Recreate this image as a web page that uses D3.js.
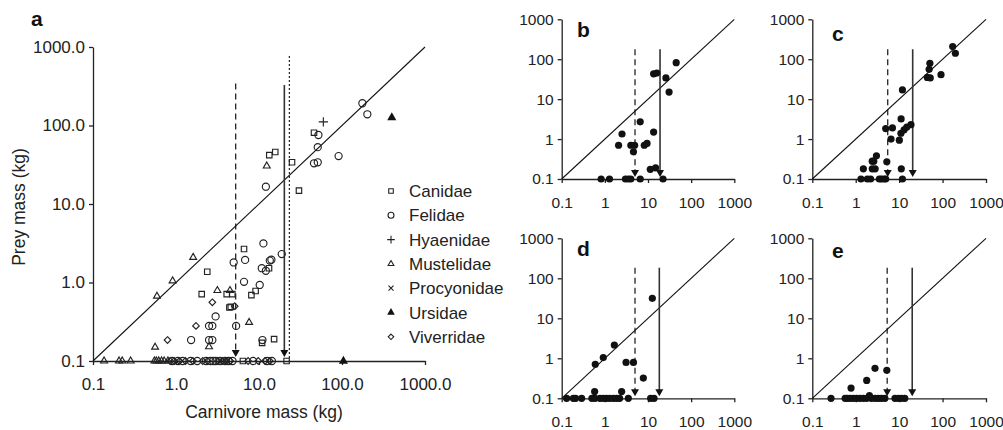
<!DOCTYPE html>
<html><head><meta charset="utf-8">
<script src="https://cdn.jsdelivr.net/npm/d3@7"></script>
<style>
body{margin:0;background:#fff;}
svg{display:block;font-family:"Liberation Sans",Arial,Helvetica,sans-serif;}
</style></head>
<body><svg id="chart" width="1003" height="430"></svg>
<script>
// ---------- DATA ----------
// Panel a: [carnivore mass kg, prey mass kg]
const canidae = [[13.3,42],[15.7,46],[25,34],[46,81],[30.3,14.8],[6.6,2.67],[13.2,1.52],[9.1,0.78],[8.1,0.69],[10.9,0.17],[15.2,0.19],[2.38,1.37],[2.04,0.71],[4.08,0.71],[4.77,0.71],[4.4,0.48],[4.57,0.49],[6.4,0.1],[21.5,0.1]];
const felidae = [[176,192],[202,139],[52,75.7],[51,53],[91,40.8],[46,33],[51,34],[12.1,16.6],[18.8,2.3],[11.3,3.15],[13.5,1.9],[14.1,1.95],[10.8,1.52],[12.1,1.41],[4.95,1.8],[6.8,1.94],[6.6,1.02],[10.2,0.93],[5.3,0.28],[11.0,0.185],[3.0,0.37],[2.5,0.28],[2.74,0.28],[2.5,0.185],[2.74,0.185],[1.52,0.185],
  [0.9,0.1],[1.05,0.1],[1.2,0.1],[1.5,0.1],[1.8,0.1],[2.3,0.1],[2.6,0.1],[2.8,0.1],[3.0,0.1],[3.4,0.1],[3.9,0.1],[4.3,0.1],[4.8,0.1],[8.5,0.1],[12.5,0.1],[14.3,0.1]];
const hyaenidae = [[59.6,111]];
const mustelidae = [[12.4,30.5],[1.61,2.09],[0.91,1.05],[0.59,0.67],[3.15,0.79],[4.47,0.79],[7.6,0.31],[0.56,0.15],[2.5,0.152],
  [0.136,0.1],[0.206,0.1],[0.225,0.1],[0.284,0.1],[0.55,0.1],[0.58,0.1],[0.62,0.1],[0.67,0.1],[0.72,0.1],[0.8,0.1]];
const procyonidae = [[3.4,0.1],[4.2,0.1]];
const ursidae = [[398,126],[104,0.1]];
const viverridae = [[2.74,0.56],[5.1,0.5],[1.74,0.28],[0.79,0.185],
  [0.85,0.1],[0.95,0.1],[1.1,0.1],[1.3,0.1],[1.6,0.1],[2.1,0.1],[2.4,0.1],[3.2,0.1],[3.6,0.1],[4.0,0.1],[4.5,0.1],[7.4,0.1],[9.8,0.1],[11.8,0.1],[13.5,0.1]];
const familyNames = ["Canidae","Felidae","Hyaenidae","Mustelidae","Procyonidae","Ursidae","Viverridae"];
// threshold lines in panel a: [carnivore mass, top prey mass]
const aDashed = [5.24, 344], aSolid = [20.2, 328], aDotted = [23.2, 768];

// Panels b-e
const panelB = [[45,82],[13.5,43],[16,45],[26,34],[30.8,15],[6.6,2.7],[2.5,1.34],[13.5,1.5],[2.08,0.7],[4.0,0.7],[4.9,0.7],[8.2,0.7],[9.5,0.78],[4.6,0.48],[11.3,0.175],[15,0.19],[0.82,0.1],[1.28,0.1],[3.0,0.1],[3.5,0.1],[4.0,0.1],[6.6,0.1],[22.3,0.1]];
const panelC = [[171,207],[197,141],[51,79],[49,56],[44.6,35],[52,34],[92,41],[11.9,17],[4.9,1.83],[7.0,1.9],[11.1,3.2],[11,1.4],[13,1.7],[15,2.0],[18.7,2.3],[6.5,1.0],[10.1,0.94],[3.0,0.38],[2.4,0.28],[2.6,0.28],[5.2,0.27],[1.5,0.18],[2.4,0.18],[2.8,0.18],[11.2,0.18],[1.32,0.1],[1.85,0.1],[2.2,0.1],[3.5,0.1],[3.9,0.1],[4.5,0.1],[4.9,0.1],[11.9,0.1]];
const panelD = [[12.6,31.6],[1.66,2.15],[0.92,1.04],[0.6,0.71],[3.1,0.79],[4.6,0.79],[7.8,0.32],[0.58,0.147],[2.45,0.147],[0.13,0.1],[0.186,0.1],[0.21,0.1],[0.29,0.1],[0.5,0.1],[0.59,0.1],[0.77,0.1],[0.92,0.1],[1.1,0.1],[1.3,0.1],[1.57,0.1],[1.87,0.1],[2.2,0.1],[3.5,0.1],[11.5,0.1],[13.8,0.1]];
const panelE = [[2.78,0.56],[5.2,0.5],[1.79,0.28],[0.78,0.18],[2.07,0.116],[0.27,0.1],[0.57,0.1],[0.64,0.1],[0.74,0.1],[0.88,0.1],[1.05,0.1],[1.25,0.1],[1.5,0.1],[1.79,0.1],[2.3,0.1],[2.8,0.1],[3.3,0.1],[3.9,0.1],[4.7,0.1],[8.0,0.1],[9.5,0.1],[11.3,0.1],[13.5,0.1]];
// thresholds for b-e: [dashed x, solid x, top prey]
const smallThresholds = {b:[5.0,19,178], c:[5.46,20.5,178], d:[5.0,18.3,184], e:[5.3,20.0,184]};

const tickValues = [0.1,1,10,100,1000];
const tickLabelsA = ["0.1","1.0","10.0","100.0","1000.0"];
const tickLabelsSmall = ["0.1","1","10","100","1000"];

// ---------- DRAW ----------
const svg = d3.select("#chart");
const ink = "#222";

function drawAxes(g, x, y, labels, fs, xLabelDy) {
  const xa = d3.axisBottom(x).tickValues(tickValues).tickFormat((d,i)=>labels[i]).tickSize(4).tickSizeOuter(0).tickPadding(5);
  const ya = d3.axisLeft(y).tickValues(tickValues).tickFormat((d,i)=>labels[i]).tickSize(4).tickSizeOuter(0).tickPadding(4);
  const gx = g.append("g").attr("transform",`translate(0,${y(0.1)})`).call(xa);
  const gy = g.append("g").attr("transform",`translate(${x(0.1)},0)`).call(ya);
  [gx,gy].forEach(a=>{
    a.attr("font-family",null);
    a.select(".domain").attr("stroke",ink).attr("stroke-width",1.3);
    a.selectAll(".tick line").attr("stroke",ink).attr("stroke-width",1.3);
    a.selectAll("text").attr("font-size",fs).attr("fill",ink);
  });
  gx.selectAll("text").attr("dy", xLabelDy);
}

function diag(g,x,y){
  g.append("line").attr("x1",x(0.1)).attr("y1",y(0.1)).attr("x2",x(1000)).attr("y2",y(1000))
   .attr("stroke","#111").attr("stroke-width",1.1);
}
function vline(g,x,y,xv,top,dash,arrow,tipOff){
  g.append("line").attr("x1",x(xv)).attr("x2",x(xv)).attr("y1",y(top)).attr("y2",y(0.1)-(arrow?tipOff+3:0))
   .attr("stroke",dash?"#111":"#333").attr("stroke-width",dash? (dash==="2,2"?1.1:1.2):1.6)
   .attr("stroke-dasharray",dash||null);
  if(arrow){
    const cx=x(xv), tip=y(0.1)-tipOff;
    g.append("path").attr("d",`M${cx-4},${tip-7}L${cx+4},${tip-7}L${cx},${tip}Z`).attr("fill","#111");
  }
}

// ----- Panel a -----
const xa = d3.scaleLog().domain([0.1,1000]).range([93,425]);
const ya = d3.scaleLog().domain([0.1,1000]).range([361,47]);
const ga = svg.append("g");
drawAxes(ga, xa, ya, tickLabelsA, 17, "1.2em");
diag(ga, xa, ya);
vline(ga, xa, ya, aDashed[0], aDashed[1], "6,4", true, 4);
vline(ga, xa, ya, aSolid[0], aSolid[1], null, true, 4);
vline(ga, xa, ya, aDotted[0], aDotted[1], "2,2", false, 0);

const families = [
  {name:"Canidae", data:canidae, type:d3.symbolSquare2||d3.symbolSquare, size:38, fill:"none"},
  {name:"Felidae", data:felidae, type:d3.symbolCircle, size:40, fill:"none"},
  {name:"Hyaenidae", data:hyaenidae, type:d3.symbolPlus||d3.symbolCross, size:30, fill:"none"},
  {name:"Mustelidae", data:mustelidae, type:d3.symbolTriangle2||d3.symbolTriangle, size:34, fill:"none"},
  {name:"Procyonidae", data:procyonidae, type:d3.symbolTimes||d3.symbolCross, size:26, fill:"none"},
  {name:"Ursidae", data:ursidae, type:d3.symbolTriangle, size:36, fill:"#111"},
  {name:"Viverridae", data:viverridae, type:d3.symbolDiamond2||d3.symbolDiamond, size:28, fill:"none"}
];
families.forEach(f=>{
  ga.append("g").selectAll("path").data(f.data).join("path")
    .attr("transform",d=>`translate(${xa(d[0])},${ya(d[1])})`)
    .attr("d", d3.symbol().type(f.type).size(f.size))
    .attr("fill", f.fill==="none" ? "#fff" : f.fill)
    .attr("fill-opacity", f.fill==="none" ? 0 : 1)
    .attr("stroke", f.fill==="none" ? "#222" : "none")
    .attr("stroke-width", 1.15);
});
// legend
const leg = ga.append("g");
families.forEach((f,i)=>{
  const yy = 191 + i*24.3;
  leg.append("path").attr("transform",`translate(391,${yy})`)
    .attr("d", d3.symbol().type(f.type).size(f.size*0.7))
    .attr("fill", f.fill==="none" ? "none" : f.fill)
    .attr("stroke", f.fill==="none" ? "#222" : "none").attr("stroke-width",1.1);
  leg.append("text").attr("x",409).attr("y",yy).attr("dy","0.36em").attr("font-size",17).attr("fill",ink).text(familyNames[i]);
});
ga.append("text").attr("x",264).attr("y",418).attr("text-anchor","middle").attr("font-size",17.5).attr("fill",ink).text("Carnivore mass (kg)");
ga.append("text").attr("transform","translate(25,207) rotate(-90)").attr("text-anchor","middle").attr("font-size",17.5).attr("fill",ink).text("Prey mass (kg)");
ga.append("text").attr("x",31).attr("y",26).attr("font-size",21).attr("font-weight","bold").attr("fill","#111").text("a");

// ----- Small panels -----
const small = [
  {id:"b", data:panelB, xr:[561.7,734.3], yr:[179,19.3], lx:577, ly:37},
  {id:"c", data:panelC, xr:[812.3,986], yr:[179,19.3], lx:832, ly:41},
  {id:"d", data:panelD, xr:[561.7,734.3], yr:[398.3,238.3], lx:577, ly:256},
  {id:"e", data:panelE, xr:[812.3,986], yr:[398.3,238.3], lx:832, ly:258}
];
small.forEach(p=>{
  const x = d3.scaleLog().domain([0.1,1000]).range(p.xr);
  const y = d3.scaleLog().domain([0.1,1000]).range(p.yr);
  const g = svg.append("g");
  drawAxes(g, x, y, tickLabelsSmall, 15.5, "1.3em");
  diag(g,x,y);
  const th = smallThresholds[p.id];
  vline(g,x,y,th[0],th[2],"6,4",true,2);
  vline(g,x,y,th[1],th[2],null,true,2);
  g.append("g").selectAll("circle").data(p.data).join("circle")
    .attr("cx",d=>x(d[0])).attr("cy",d=>y(d[1])).attr("r",3.6).attr("fill","#111");
  g.append("text").attr("x",p.lx).attr("y",p.ly).attr("font-size",21).attr("font-weight","bold").attr("fill","#111").text(p.id);
});
</script></body></html>
